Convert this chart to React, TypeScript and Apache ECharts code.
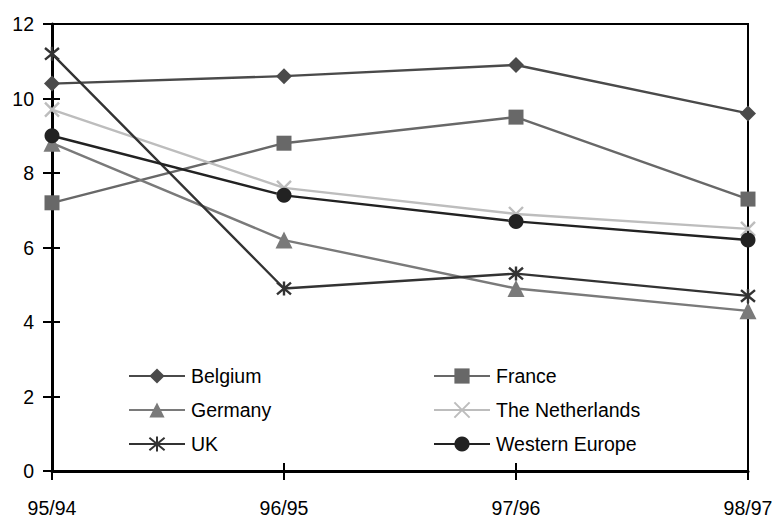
import React, { useEffect, useRef } from "react";
import * as echarts from "echarts";

const categories = ["95/94", "96/95", "97/96", "98/97"];
const belgium = [10.4, 10.6, 10.9, 9.6];
const france = [7.2, 8.8, 9.5, 7.3];
const germany = [8.8, 6.2, 4.9, 4.3];
const netherlands = [9.7, 7.6, 6.9, 6.5];
const uk = [11.2, 4.9, 5.3, 4.7];
const westernEurope = [9.0, 7.4, 6.7, 6.2];
const yTicks = { min: 0, max: 12, interval: 2 };

const FONT = "'Liberation Sans', Arial, sans-serif";
const CROSS = "path://M0,0 L10,10 M10,0 L0,10";
const STAR = "path://M0,0 L10,10 M10,0 L0,10 M5,-1 L5,11";

function lineSeries(name: string, data: number[], color: string, symbol: string, size: number, stroked = false) {
  return {
    name,
    type: "line",
    data,
    symbol,
    symbolSize: size,
    lineStyle: { color, width: 2.4 },
    itemStyle: stroked
      ? { color: "rgba(0,0,0,0)", borderColor: color, borderWidth: 2.4 }
      : { color, borderWidth: 0 },
    emphasis: { disabled: true },
    z: 3,
  };
}

export default function App() {
  const ref = useRef<HTMLDivElement>(null);

  useEffect(() => {
    if (!ref.current) return;
    const chart = echarts.init(ref.current, undefined, { renderer: "svg" });
    const legendCommon = {
      orient: "vertical",
      top: 366,
      padding: 0,
      itemWidth: 56,
      itemHeight: 19,
      itemGap: 14,
      textStyle: { fontFamily: FONT, fontSize: 19.5, color: "#000", padding: [0, 0, 0, 1] },
      selectedMode: false,
    };
    chart.setOption({
      animation: false,
      backgroundColor: "#fff",
      textStyle: { fontFamily: FONT },
      grid: {
        left: 52,
        right: 28,
        top: 24,
        bottom: 47,
        show: true,
        borderColor: "#000",
        borderWidth: 2,
        backgroundColor: "transparent",
      },
      legend: [
        { ...legendCommon, left: 128, data: ["Belgium", "Germany", "UK"] },
        { ...legendCommon, left: 433, data: ["France", "The Netherlands", "Western Europe"] },
      ],
      xAxis: [
        {
          type: "category",
          data: categories,
          boundaryGap: false,
          axisLine: { lineStyle: { color: "#000", width: 3 } },
          axisTick: { show: true, inside: false, length: 9, lineStyle: { color: "#000", width: 2 } },
          axisLabel: { color: "#000", fontSize: 19.5, fontFamily: FONT, margin: 27 },
          splitLine: { show: false },
        },
        {
          type: "category",
          data: categories,
          boundaryGap: false,
          position: "bottom",
          axisLine: { show: false },
          axisTick: { show: true, inside: true, length: 8, lineStyle: { color: "#000", width: 2 } },
          axisLabel: { show: false },
          splitLine: { show: false },
        },
      ],
      yAxis: [
        {
          type: "value",
          ...yTicks,
          axisLine: { show: true, lineStyle: { color: "#000", width: 3 } },
          axisTick: { show: true, inside: false, length: 9, lineStyle: { color: "#000", width: 2 } },
          axisLabel: { color: "#000", fontSize: 19.5, fontFamily: FONT, margin: 18 },
          splitLine: { show: false },
        },
        {
          type: "value",
          ...yTicks,
          position: "left",
          axisLine: { show: false },
          axisTick: { show: true, inside: true, length: 8, lineStyle: { color: "#000", width: 2 } },
          axisLabel: { show: false },
          splitLine: { show: false },
        },
      ],
      series: [
        lineSeries("Belgium", belgium, "#4a4a4a", "diamond", 16),
        lineSeries("France", france, "#686868", "rect", 15),
        lineSeries("Germany", germany, "#7a7a7a", "triangle", 17),
        lineSeries("The Netherlands", netherlands, "#bdbdbd", CROSS, 14, true),
        lineSeries("UK", uk, "#333333", STAR, 14, true),
        lineSeries("Western Europe", westernEurope, "#222222", "circle", 15),
      ],
    });
    return () => chart.dispose();
  }, []);

  return <div ref={ref} style={{ width: 776, height: 518, position: "absolute", left: 0, top: 0 }} />;
}
